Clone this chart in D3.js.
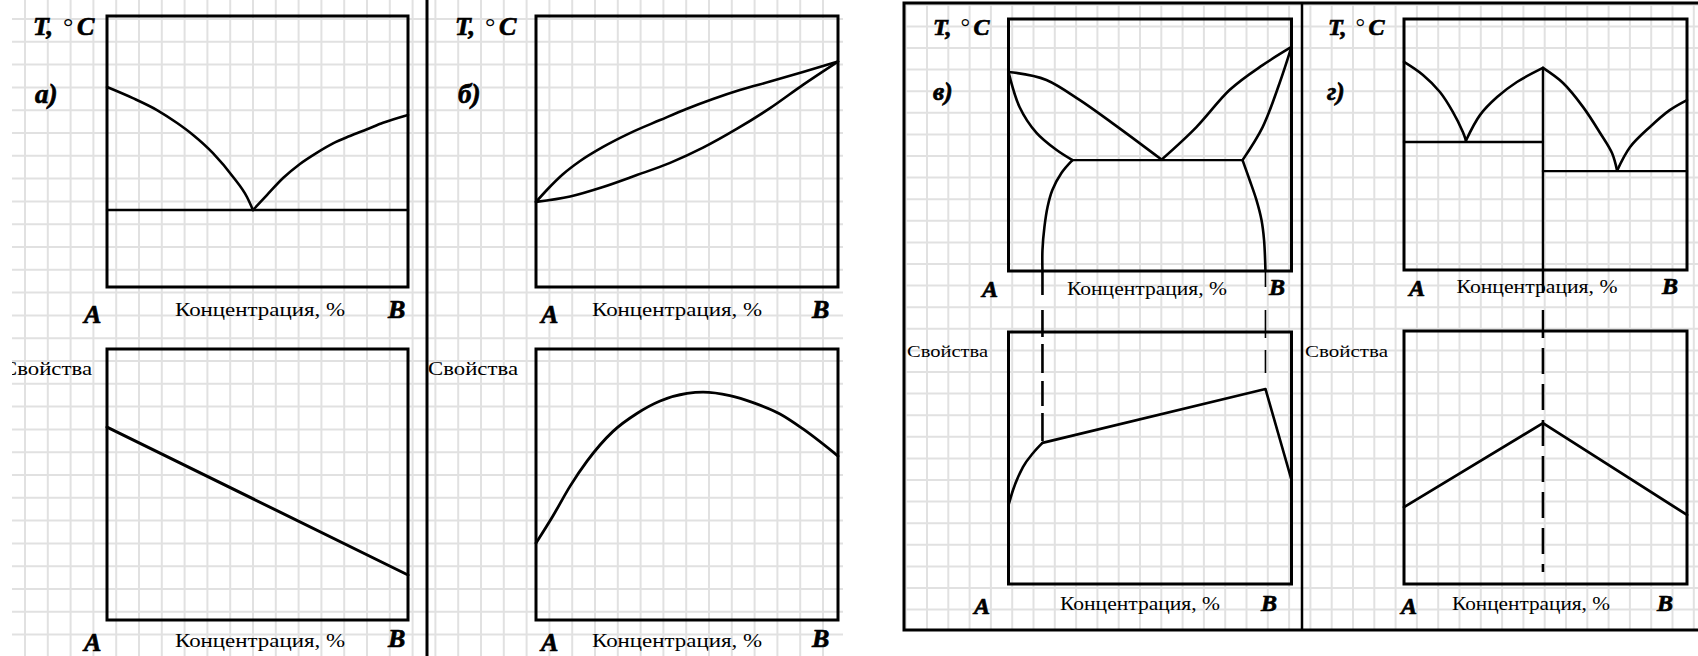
<!DOCTYPE html>
<html>
<head>
<meta charset="utf-8">
<script src="https://cdn.jsdelivr.net/npm/d3@7"></script>
<style>
  html, body { margin: 0; padding: 0; background: #fff; }
  svg { display: block; }
</style>
</head>
<body>
<svg id="chart"></svg>
<script>
// ---------- Text ----------
const tempAxisParts = ["T,", "°", "C"];
const propertyAxisLabel = "Свойства";
const concentrationLabel = "Концентрация, %";
const componentNames = ["A", "B"];
const panelLetters = ["а)", "б)", "в)", "г)"];

// ---------- Data: [concentration %, value on 0..100 scale] ----------
// а) eutectic system, insoluble components
const aLiquidusLeft  = [[0,73.8],[8.6,69.7],[16.6,65.3],[23.3,60.5],[28.6,56.1],[35.2,49.4],[41.9,40.6],[46.5,33.2],[48.5,28.4]];
const aLiquidusRight = [[48.5,28.4],[53.2,34.0],[58.5,40.2],[64.1,45.4],[69.8,49.6],[75.1,53.0],[80.7,55.7],[86.4,58.2],[91.7,60.6],[100,63.5]];
const aEutecticLine  = [[0,28.4],[100,28.4]];
const aProperty      = [[0,71.2],[100,16.6]];

// б) unlimited solid solubility
const bLiquidus = [[0,31.4],[3.6,35.8],[8.9,41.6],[14.6,46.5],[22.2,51.7],[31.1,56.8],[41.1,61.6],[50,65.8],[58.6,69.4],[67.5,72.7],[77.5,75.8],[88.4,79.3],[100,83.2]];
const bSolidus  = [[0,31.4],[11.3,33.4],[22.2,36.9],[33.4,41.3],[44.4,45.8],[55.3,51.4],[66.6,58.4],[77.5,66.0],[88.4,74.6],[100,83.2]];
const bProperty = [[0,28.4],[5.6,38.4],[11.3,49.4],[16.9,58.6],[25.5,69.6],[33.4,76.2],[41.1,80.8],[50,83.6],[55.3,84.1],[64.2,82.8],[71.9,80.2],[80.8,76.0],[88.4,70.5],[100,60.5]];

// в) limited solid solubility
const vLiquidusLeft  = [[0,79.0],[13.4,75.8],[25.1,67.9],[36.7,58.7],[54.1,44.2]];
const vLiquidusRight = [[54.1,44.2],[66.4,57.1],[78.1,71.8],[89.8,81.7],[100,88.9]];
const vSolidusLeft   = [[0,79.0],[3.9,65.1],[9.9,54.8],[17.0,48.0],[22.6,44.0]];
const vSolidusRight  = [[100,88.9],[95.8,74.6],[89.8,57.1],[82.7,44.0]];
const vSolvusLeft    = [[22.6,44.0],[18.7,38.9],[15.5,32.1],[13.8,25.4],[12.7,17.5],[12.0,8.3],[12.0,0]];
const vSolvusRight   = [[82.7,44.0],[85.2,36.1],[87.6,28.2],[89.4,20.2],[90.3,12.3],[90.8,0]];
const vEutecticLine  = [[22.6,44.0],[82.7,44.0]];
const vPropertySolidA = [[0,31.3],[1.6,37.3],[5.1,46.4],[8.7,52.0],[12.0,56.0]];
const vPropertyMix    = [[12.0,56.0],[90.8,77.4],[100,41.3]];
const vSolubilityLimits = [12.0, 90.8];

// г) chemical compound
const gLiquidus1 = [[0,82.9],[6.7,77.7],[12.7,70.9],[17.3,62.9],[20.8,55.0],[21.9,51.6]];
const gLiquidus2 = [[21.9,51.6],[26.9,61.8],[32.9,68.9],[39.9,74.9],[49.1,80.5]];
const gLiquidus3 = [[49.1,80.5],[56.2,74.5],[63.3,64.9],[69.3,54.6],[73.5,46.6],[75.3,39.6]];
const gLiquidus4 = [[75.3,39.6],[79.9,49.0],[86.9,57.0],[93.9,63.7],[100,67.7]];
const gEutectic1 = [[0,51.0],[49.1,51.0]];
const gEutectic2 = [[49.1,39.4],[100,39.4]];
const gCompound  = 49.1;
const gProperty  = [[0,30.4],[49.1,63.6],[100,27.3]];

// ---------- Layout ----------
const W = 1698, H = 656;
const svg = d3.select("#chart").attr("width", W).attr("height", H);
const defs = svg.append("defs");

defs.append("clipPath").attr("id", "clipLeft")
  .append("rect").attr("x", 12).attr("y", 0).attr("width", 831).attr("height", H);
defs.append("clipPath").attr("id", "clipRight")
  .append("rect").attr("x", 904).attr("y", 3).attr("width", W - 904).attr("height", 627);

const gridColor = "#e1e1e1";

function drawGrid(g, x0, x1, y0, y1, vx, vStep, hy, hStep) {
  const vs = d3.range(vx, x1, vStep);
  const hs = d3.range(hy, y1, hStep);
  g.selectAll(null).data(vs).enter().append("line")
    .attr("x1", d => d).attr("x2", d => d).attr("y1", y0).attr("y2", y1)
    .attr("stroke", gridColor).attr("stroke-width", 2);
  g.selectAll(null).data(hs).enter().append("line")
    .attr("y1", d => d).attr("y2", d => d).attr("x1", x0).attr("x2", x1)
    .attr("stroke", gridColor).attr("stroke-width", 2);
}

const left = svg.append("g").attr("clip-path", "url(#clipLeft)");
const right = svg.append("g").attr("clip-path", "url(#clipRight)");

drawGrid(left, 12, 843, 0, H, 25, 22.8, 19, 22.8);
drawGrid(right, 904, W, 3, 630, 905.7, 21.3, 4.8, 21.6);

// Panel scales
function panel(x0, x1, y0, y1) {
  return {
    x0, x1, y0, y1,
    x: d3.scaleLinear().domain([0, 100]).range([x0, x1]),
    y: d3.scaleLinear().domain([0, 100]).range([y1, y0])
  };
}

const P = {
  aTop: panel(107, 408, 16, 287),
  aBot: panel(107, 408, 349, 620),
  bTop: panel(536, 838, 16, 287),
  bBot: panel(536, 838, 349, 620),
  vTop: panel(1008.5, 1291.5, 19, 271),
  vBot: panel(1008.5, 1291.5, 332, 584),
  gTop: panel(1404, 1687, 19, 270),
  gBot: panel(1404, 1687, 331, 584)
};

function frame(g, p) {
  g.append("rect")
    .attr("x", p.x0).attr("y", p.y0)
    .attr("width", p.x1 - p.x0).attr("height", p.y1 - p.y0)
    .attr("fill", "none").attr("stroke", "#000").attr("stroke-width", 3);
}

function curve(g, p, pts, smooth, width) {
  const line = d3.line()
    .x(d => p.x(d[0])).y(d => p.y(d[1]))
    .curve(smooth ? d3.curveMonotoneX : d3.curveLinear);
  g.append("path").attr("d", line(pts))
    .attr("fill", "none").attr("stroke", "#000")
    .attr("stroke-width", width || 2.6)
    .attr("stroke-linejoin", "round").attr("stroke-linecap", "round");
}

function curveFree(g, p, pts, width) {
  const line = d3.line()
    .x(d => p.x(d[0])).y(d => p.y(d[1]))
    .curve(d3.curveCatmullRom.alpha(0.5));
  g.append("path").attr("d", line(pts))
    .attr("fill", "none").attr("stroke", "#000")
    .attr("stroke-width", width || 2.6)
    .attr("stroke-linejoin", "round").attr("stroke-linecap", "round");
}

const serif = "'Liberation Serif', 'Times New Roman', serif";

function label(g, txt, x, y, o) {
  const t = g.append("text").attr("x", x).attr("y", y)
    .attr("font-family", serif)
    .attr("font-size", o.size)
    .attr("font-weight", o.bold ? "bold" : "normal")
    .attr("font-style", o.italic ? "italic" : "normal")
    .attr("text-anchor", o.anchor || "start")
    .attr("fill", "#000")
    .text(txt);
  if (o.bold) t.attr("stroke", "#000").attr("stroke-width", 0.7);
  if (o.len) t.attr("textLength", o.len).attr("lengthAdjust", "spacingAndGlyphs");
  return t;
}

// "T, ° C" axis title with spaced parts
function tempTitle(g, x, y, size, k) {
  const t = g.append("text").attr("y", y)
    .attr("font-family", serif).attr("font-size", size)
    .attr("font-weight", "bold").attr("font-style", "italic").attr("fill", "#000");
  const offs = [0, 30 * k, 44 * k];
  tempAxisParts.forEach((s, i) => {
    t.append("tspan").attr("x", x + offs[i]).attr("dy", 0)
      .attr("font-weight", i === 1 ? "normal" : "bold")
      .attr("font-style", i === 1 ? "normal" : "italic")
      .attr("stroke", i === 1 ? "none" : "#000")
      .attr("stroke-width", 0.7)
      .text(s);
  });
}

// ---------- Panel frames ----------
[P.aTop, P.aBot, P.bTop, P.bBot].forEach(p => frame(left, p));
[P.vTop, P.vBot, P.gTop, P.gBot].forEach(p => frame(right, p));

// ---------- а) ----------
curve(left, P.aTop, aLiquidusLeft, true);
curve(left, P.aTop, aLiquidusRight, true);
curve(left, P.aTop, aEutecticLine, false, 2.4);
curve(left, P.aBot, aProperty, false, 3);

// ---------- б) ----------
curve(left, P.bTop, bLiquidus, true);
curve(left, P.bTop, bSolidus, true);
curve(left, P.bBot, bProperty, true, 2.8);

// ---------- в) ----------
curve(right, P.vTop, vLiquidusLeft, true);
curve(right, P.vTop, vLiquidusRight, true);
curveFree(right, P.vTop, vSolidusLeft);
curveFree(right, P.vTop, vSolidusRight);
curveFree(right, P.vTop, vSolvusLeft);
curveFree(right, P.vTop, vSolvusRight);
curve(right, P.vTop, vEutecticLine, false, 2.4);
curve(right, P.vBot, vPropertySolidA, true);
curve(right, P.vBot, vPropertyMix, false);

// dashed links between the solubility limits and the property curve
const vPeakL = vPropertyMix[0][1], vPeakR = vPropertyMix[1][1];
right.append("line")
  .attr("x1", P.vTop.x(vSolubilityLimits[0])).attr("x2", P.vTop.x(vSolubilityLimits[0]))
  .attr("y1", P.vTop.y(0)).attr("y2", P.vBot.y(vPeakL))
  .attr("stroke", "#000").attr("stroke-width", 2.6).attr("stroke-dasharray", "24,15,27,7,29,8,25,7,28");
right.append("line")
  .attr("x1", P.vTop.x(vSolubilityLimits[1])).attr("x2", P.vTop.x(vSolubilityLimits[1]))
  .attr("y1", P.vTop.y(0)).attr("y2", P.vBot.y(vPeakR))
  .attr("stroke", "#000").attr("stroke-width", 1.6).attr("stroke-dasharray", "16,23,28,12,23,40");

// ---------- г) ----------
curveFree(right, P.gTop, gLiquidus1);
curveFree(right, P.gTop, gLiquidus2);
curveFree(right, P.gTop, gLiquidus3);
curveFree(right, P.gTop, gLiquidus4);
curve(right, P.gTop, gEutectic1, false, 2.4);
curve(right, P.gTop, gEutectic2, false, 2.4);
curve(right, P.gTop, [[gCompound, 80.5], [gCompound, 0]], false, 2.4);
right.append("line")
  .attr("x1", P.gTop.x(gCompound)).attr("x2", P.gTop.x(gCompound))
  .attr("y1", P.gTop.y(0)).attr("y2", P.gBot.y(100))
  .attr("stroke", "#000").attr("stroke-width", 2.4).attr("stroke-dasharray", "23,17,30");
right.append("line")
  .attr("x1", P.gBot.x(gCompound)).attr("x2", P.gBot.x(gCompound))
  .attr("y1", P.gBot.y(100)).attr("y2", P.gBot.y(4.7))
  .attr("stroke", "#000").attr("stroke-width", 2.6)
  .attr("stroke-dasharray", "26,10").attr("stroke-dashoffset", 19);
curve(right, P.gBot, gProperty, false, 2.8);

// ---------- Separators ----------
svg.append("line").attr("x1", 427).attr("x2", 427).attr("y1", 0).attr("y2", H)
  .attr("stroke", "#000").attr("stroke-width", 3);
svg.append("rect").attr("x", 904).attr("y", 3).attr("width", 800).attr("height", 627)
  .attr("fill", "none").attr("stroke", "#000").attr("stroke-width", 3);
svg.append("line").attr("x1", 1302).attr("x2", 1302).attr("y1", 3).attr("y2", 630)
  .attr("stroke", "#000").attr("stroke-width", 2.5);

// ---------- Labels ----------
const bi = (s) => ({ size: s, bold: true, italic: true });
const rg = (s, len, anchor) => ({ size: s, len, anchor });

// а)
tempTitle(left, 33, 35, 26, 1);
label(left, panelLetters[0], 35, 103, bi(27));
label(left, componentNames[0], 84, 323, bi(26));
label(left, componentNames[1], 388, 318, bi(26));
label(left, concentrationLabel, 260, 316, rg(19, 170, "middle"));
label(left, propertyAxisLabel, 2, 375, rg(18, 90));
label(left, componentNames[0], 84, 651, bi(26));
label(left, componentNames[1], 388, 647, bi(26));
label(left, concentrationLabel, 260, 647, rg(19, 170, "middle"));

// б)
tempTitle(left, 455, 35, 26, 1);
label(left, panelLetters[1], 458, 103, bi(27));
label(left, componentNames[0], 541, 323, bi(26));
label(left, componentNames[1], 812, 318, bi(26));
label(left, concentrationLabel, 677, 316, rg(19, 170, "middle"));
label(left, propertyAxisLabel, 428, 375, rg(18, 90));
label(left, componentNames[0], 541, 651, bi(26));
label(left, componentNames[1], 812, 647, bi(26));
label(left, concentrationLabel, 677, 647, rg(19, 170, "middle"));

// в)
tempTitle(right, 933, 35, 24, 0.92);
label(right, panelLetters[2], 933, 100, bi(25));
label(right, componentNames[0], 982, 297, bi(24));
label(right, componentNames[1], 1269, 295, bi(24));
label(right, concentrationLabel, 1147, 295, rg(18, 160, "middle"));
label(right, propertyAxisLabel, 907, 357, rg(17, 81));
label(right, componentNames[0], 974, 614, bi(24));
label(right, componentNames[1], 1261, 611, bi(24));
label(right, concentrationLabel, 1140, 610, rg(18, 160, "middle"));

// г)
tempTitle(right, 1328, 35, 24, 0.92);
label(right, panelLetters[3], 1327, 100, bi(25));
label(right, componentNames[0], 1409, 296, bi(24));
label(right, componentNames[1], 1662, 294, bi(24));
label(right, concentrationLabel, 1537, 293, rg(18, 161, "middle"));
label(right, propertyAxisLabel, 1305, 357, rg(17, 83));
label(right, componentNames[0], 1401, 614, bi(24));
label(right, componentNames[1], 1657, 611, bi(24));
label(right, concentrationLabel, 1531, 610, rg(18, 158, "middle"));
</script>
</body>
</html>
